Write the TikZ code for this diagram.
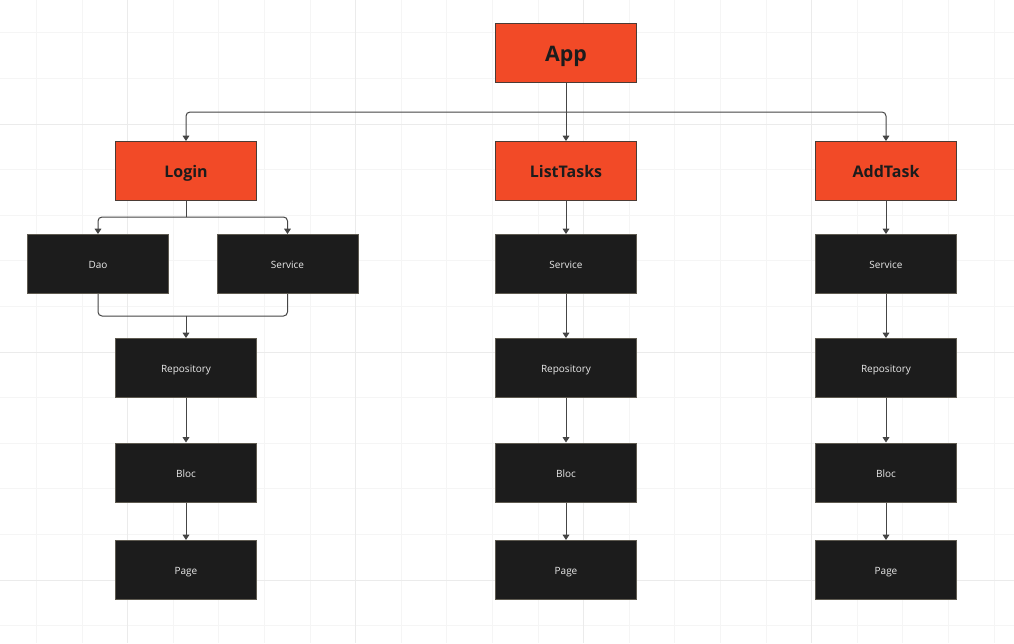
\documentclass[tikz,border=0pt]{standalone}
\usepackage{fontspec}
\setmainfont{Open Sans}
\usetikzlibrary{arrows.meta}
\definecolor{boxorange}{HTML}{F24A27}
\definecolor{boxdark}{HTML}{1C1C1C}
\definecolor{edgeorange}{HTML}{4B3B35}
\definecolor{edgedark}{HTML}{5E5A50}
\definecolor{linkgray}{HTML}{454545}
\definecolor{gridminor}{HTML}{F5F5F5}
\definecolor{gridmajor}{HTML}{EBEBEB}
\tikzset{
  topbox/.style={draw=edgeorange, line width=0.75pt, fill=boxorange, text=boxdark,
    minimum width=105.75pt, minimum height=44.25pt, inner sep=0pt,
    text height=10pt, text depth=0pt, font=\bfseries\fontsize{12}{14}\selectfont},
  appbox/.style={topbox, text height=13pt, font=\bfseries\fontsize{16}{18}\selectfont},
  layerbox/.style={draw=edgedark, line width=0.75pt, fill=boxdark, text=white!92!black,
    minimum width=105.75pt, minimum height=44.25pt, inner sep=0pt,
    text height=7.4pt, text depth=0pt, font=\fontsize{7.5}{9}\selectfont},
  link/.style={draw=linkgray, line width=0.75pt, rounded corners=3pt},
  linkarrow/.style={link, -{Triangle[length=4pt,width=5pt]}}
}
\begin{document}
\begin{tikzpicture}[x=0.75pt,y=-0.75pt]
				\useasboundingbox (0,0) rectangle (1014,643);
				\fill[white] (0,0) rectangle (1014,643);
				%Grid
				\foreach \k in {-2,...,19} {
					\draw[gridminor, line width=0.75pt] ({127.6+45.6*\k},0) -- ({127.6+45.6*\k},643);
				}
				\foreach \k in {-2,...,11} {
					\draw[gridminor, line width=0.75pt] (0,{124+45.6*\k}) -- (1014,{124+45.6*\k});
				}
				\foreach \gx in {127.6,355.6,583.6,811.6} {
					\draw[gridmajor, line width=0.75pt] (\gx,0) -- (\gx,643);
				}
				\foreach \gy in {124,352,580} {
					\draw[gridmajor, line width=0.75pt] (0,\gy) -- (1014,\gy);
				}

				%Nodes
				\node[appbox]   (app)       at (566,53)  {App};
				\node[topbox]   (login)     at (186,171) {Login};
				\node[topbox]   (listtasks) at (566,171) {ListTasks};
				\node[topbox]   (addtask)   at (886,171) {AddTask};

				\node[layerbox] (dao)       at (98,264)    {Dao};
				\node[layerbox] (serviceA)  at (287.5,264) {Service};
				\node[layerbox] (repoA)     at (186,368)   {Repository};
				\node[layerbox] (blocA)     at (186,472.5) {Bloc};
				\node[layerbox] (pageA)     at (186,570)   {Page};

				\node[layerbox] (serviceB)  at (566,264)   {Service};
				\node[layerbox] (repoB)     at (566,368)   {Repository};
				\node[layerbox] (blocB)     at (566,472.5) {Bloc};
				\node[layerbox] (pageB)     at (566,570)   {Page};

				\node[layerbox] (serviceC)  at (886,264)   {Service};
				\node[layerbox] (repoC)     at (886,368)   {Repository};
				\node[layerbox] (blocC)     at (886,472.5) {Bloc};
				\node[layerbox] (pageC)     at (886,570)   {Page};

				\coordinate (appsplit)   at (566,112);
				\coordinate (loginsplit) at (186,217);
				\coordinate (loginmerge) at (186,316);

				%Lines
				\draw[link] (app.south) -- (appsplit);
				\draw[linkarrow] (appsplit) -| (login.north);
				\draw[linkarrow] (appsplit) -- (listtasks.north);
				\draw[linkarrow] (appsplit) -| (addtask.north);

				\draw[link] (login.south) -- (loginsplit);
				\draw[linkarrow] (loginsplit) -| (dao.north);
				\draw[linkarrow] (loginsplit) -| (serviceA.north);
				\draw[link] (dao.south) |- (loginmerge);
				\draw[link] (serviceA.south) |- (loginmerge);
				\draw[linkarrow] (loginmerge) -- (repoA.north);
				\draw[linkarrow] (repoA) -- (blocA);
				\draw[linkarrow] (blocA) -- (pageA);

				\draw[linkarrow] (listtasks) -- (serviceB);
				\draw[linkarrow] (serviceB) -- (repoB);
				\draw[linkarrow] (repoB) -- (blocB);
				\draw[linkarrow] (blocB) -- (pageB);

				\draw[linkarrow] (addtask) -- (serviceC);
				\draw[linkarrow] (serviceC) -- (repoC);
				\draw[linkarrow] (repoC) -- (blocC);
				\draw[linkarrow] (blocC) -- (pageC);
\end{tikzpicture}
\end{document}
